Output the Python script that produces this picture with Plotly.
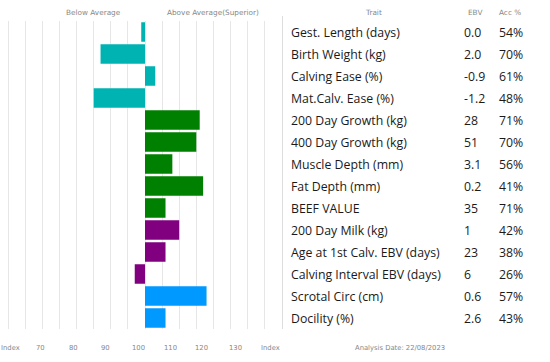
import plotly.graph_objects as go

traits = ["Gest. Length (days)", "Birth Weight (kg)", "Calving Ease (%)", "Mat.Calv. Ease (%)",
          "200 Day Growth (kg)", "400 Day Growth (kg)", "Muscle Depth (mm)", "Fat Depth (mm)",
          "BEEF VALUE", "200 Day Milk (kg)", "Age at 1st Calv. EBV (days)",
          "Calving Interval EBV (days)", "Scrotal Circ (cm)", "Docility (%)"]
index_values = [98.9, 87, 103, 85, 116, 115, 108, 117, 106, 110, 106, 97, 118, 106]
ebv = ["0.0", "2.0", "-0.9", "-1.2", "28", "51", "3.1", "0.2", "35", "1", "23", "6", "0.6", "2.6"]
acc = ["54%", "70%", "61%", "48%", "71%", "70%", "56%", "41%", "71%", "42%", "38%", "26%", "57%", "43%"]
groups = ["calving"] * 4 + ["growth"] * 5 + ["maternal"] * 3 + ["other"] * 2
group_colors = {"calving": "#00b3b3", "growth": "#008000", "maternal": "#800080", "other": "#0099ff"}
tick_labels = ["Index", "70", "80", "90", "100", "110", "120", "130", "Index"]
tick_label_px = [10, 40, 73, 105, 138, 170, 201, 235, 270]

W, H = 550, 362
AVG = 100

fig = go.Figure()
fig.add_trace(go.Bar(
    y=traits, x=[v - AVG for v in index_values], base=AVG, orientation="h",
    marker=dict(color=[group_colors[g] for g in groups], line=dict(width=0)),
    hoverinfo="skip", showlegend=False,
))

x_left_px, x_right_px = 4.8, 268.1
y_top_px, y_bot_px = 21, 329

fig.update_layout(
    width=W, height=H, margin=dict(l=0, r=0, t=0, b=0),
    paper_bgcolor="white", plot_bgcolor="white",
    bargap=0.11,
    xaxis=dict(domain=[x_left_px / W, x_right_px / W], range=[59, 136], tick0=60, dtick=5,
               showgrid=True, gridcolor="#e6e6e6", gridwidth=1, zeroline=False,
               showticklabels=False, ticks="", showline=False, fixedrange=True),
    yaxis=dict(domain=[1 - y_bot_px / H, 1 - y_top_px / H], autorange="reversed",
               showticklabels=False, showgrid=False, zeroline=False, ticks="", showline=False),
    font=dict(family="DejaVu Sans"),
)

def px_x(p):
    return p / W

def px_y(p):
    return 1 - p / H

ann = []
hdr = dict(family="DejaVu Sans", size=7.3, color="#888888")
ftr = dict(family="DejaVu Sans", size=6.8, color="#888888")
ann.append(dict(text="Below Average", x=px_x(93), y=px_y(13), xanchor="center", yanchor="middle", font=hdr))
ann.append(dict(text="Above Average(Superior)", x=px_x(213), y=px_y(13), xanchor="center", yanchor="middle", font=hdr))
ann.append(dict(text="Trait", x=px_x(373), y=px_y(12), xanchor="center", yanchor="middle", font=hdr))
ann.append(dict(text="EBV", x=px_x(475), y=px_y(12), xanchor="center", yanchor="middle", font=hdr))
ann.append(dict(text="Acc %", x=px_x(510), y=px_y(12), xanchor="center", yanchor="middle", font=hdr))

row_font = dict(family="Open Sans", size=12.3, color="#1a1a1a")
for t, e, a in zip(traits, ebv, acc):
    ann.append(dict(text=t, x=px_x(289), y=t, yref="y", xanchor="left", yanchor="middle", font=row_font))
    ann.append(dict(text=e, x=px_x(462), y=t, yref="y", xanchor="left", yanchor="middle", font=row_font))
    ann.append(dict(text=a, x=px_x(497), y=t, yref="y", xanchor="left", yanchor="middle", font=row_font))

for lab, p in zip(tick_labels, tick_label_px):
    ann.append(dict(text=lab, x=px_x(p), y=px_y(348), xanchor="center", yanchor="middle", font=ftr))
ann.append(dict(text="Analysis Date: 22/08/2023", x=px_x(400), y=px_y(348), xanchor="center",
                yanchor="middle", font=ftr))

for a_ in ann:
    a_.setdefault("xref", "paper")
    a_.setdefault("yref", "paper")
    a_["showarrow"] = False
fig.update_layout(annotations=ann)

fig.add_shape(type="line", xref="paper", yref="paper", x0=px_x(282.5), x1=px_x(282.5),
              y0=px_y(16), y1=px_y(329), line=dict(color="#dddddd", width=1))

fig.write_html("out.html", config={"displayModeBar": False},
               post_script="document.body.style.margin='0';document.body.style.padding='0';")
